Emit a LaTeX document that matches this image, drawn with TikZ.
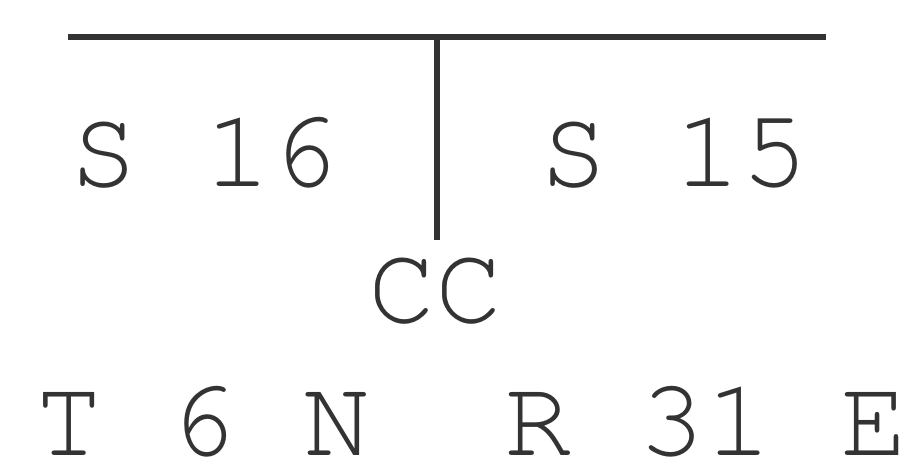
\documentclass[tikz,border=0pt]{standalone}
\usepackage[T1]{fontenc}
\begin{document}
\begin{tikzpicture}[x=1pt,y=-1pt,
  lbl/.style={anchor=base west,inner sep=0pt,text depth=0pt,text=ink,font=\fontencoding{T1}\fontfamily{pcr}\fontsize{112}{112}\selectfont},
  bar/.style={draw=ink,line width=6pt}]
\definecolor{ink}{HTML}{333333}
\useasboundingbox (0,0) rectangle (908,469);
\coordinate (hl) at (68,37);
\coordinate (hr) at (826,37);
\coordinate (vt) at (437,37);
\coordinate (vb) at (437,240);
\draw[bar] (hl) -- (hr);
\draw[bar] (vt) -- (vb);
\node[lbl] (s16) at (70,186) {S 16};
\node[lbl] (s15) at (540,186) {S 15};
\node[lbl] (cc) at (368,322) {CC};
\node[lbl] (t6n) at (35,455) {T 6 N};
\node[lbl] (r31e) at (504,455) {R 31 E};
\end{tikzpicture}
\end{document}
